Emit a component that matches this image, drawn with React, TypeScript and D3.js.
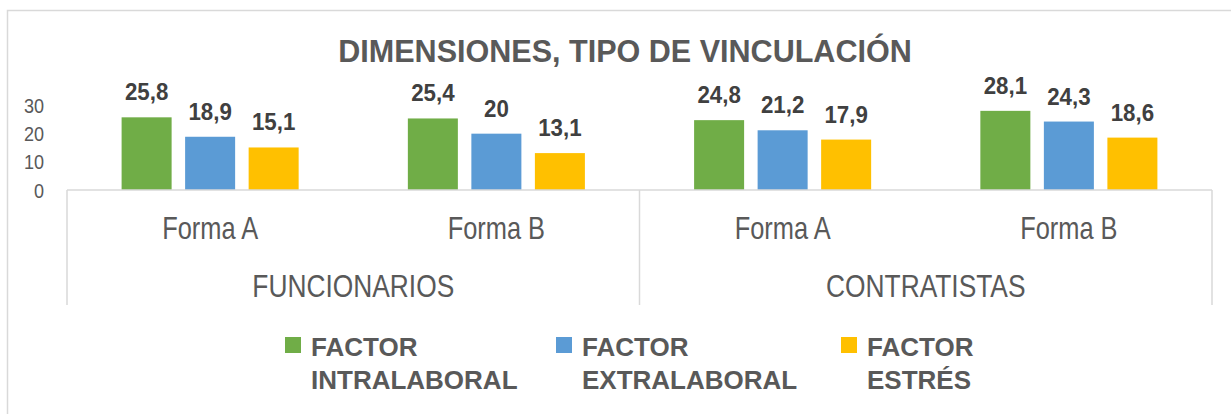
import React, { useEffect, useRef } from "react";
import * as d3 from "d3";

const categories = ["Forma A", "Forma B", "Forma A", "Forma B"];
const groups = ["FUNCIONARIOS", "CONTRATISTAS"];
const seriesNames = ["FACTOR INTRALABORAL", "FACTOR EXTRALABORAL", "FACTOR ESTRÉS"];
const legendLines = [["FACTOR", "INTRALABORAL"], ["FACTOR", "EXTRALABORAL"], ["FACTOR", "ESTRÉS"]];
const intralaboral = [25.8, 25.4, 24.8, 28.1];
const extralaboral = [18.9, 20, 21.2, 24.3];
const estres = [15.1, 13.1, 17.9, 18.6];
const yTicks = [0, 10, 20, 30];
const title = "DIMENSIONES, TIPO DE VINCULACIÓN";

const colors = ["#70AD47", "#5B9BD5", "#FFC000"];
const W = 1231;
const H = 414;
const FONT = "'Liberation Sans', Arial, sans-serif";

export default function App() {
  const ref = useRef<SVGSVGElement | null>(null);

  useEffect(() => {
    const svg = d3.select(ref.current);
    svg.selectAll("*").remove();

    const series = [intralaboral, extralaboral, estres];

    const x0 = d3.scaleBand<number>().domain(categories.map((_, i) => i)).range([67, 1212]).padding(0);
    const bw = x0.bandwidth();
    const x1 = d3
      .scaleBand<number>()
      .domain(series.map((_, i) => i))
      .range([54.6, bw - 54.6])
      .paddingInner(0.2126)
      .paddingOuter(0);
    const y = d3.scaleLinear().domain([0, 30]).range([190, 105.5]);

    const text = (
      g: any,
      x: number,
      yy: number,
      str: string,
      o: { size: number; sx: number; weight?: string; fill: string; anchor?: string }
    ) =>
      g
        .append("text")
        .attr("transform", `translate(${x},${yy}) scale(${o.sx},1)`)
        .attr("font-family", FONT)
        .attr("font-size", o.size)
        .attr("font-weight", o.weight || "normal")
        .attr("fill", o.fill)
        .attr("text-anchor", o.anchor || "middle")
        .text(str);

    // background & outer frame
    svg.append("rect").attr("x", 0).attr("y", 0).attr("width", W).attr("height", H).attr("fill", "#fff");
    svg
      .append("rect")
      .attr("x", 7.5)
      .attr("y", 10.5)
      .attr("width", 1300)
      .attr("height", 500)
      .attr("fill", "none")
      .attr("stroke", "#d9d9d9")
      .attr("stroke-width", 1.5);

    // title
    text(svg, 625, 62, title, { size: 32, sx: 0.955, weight: "bold", fill: "#595959" });

    // y tick labels
    yTicks.forEach((t) => {
      text(svg, 44, y(t) + 7.5, String(t), { size: 21, sx: 0.86, fill: "#595959", anchor: "end" });
    });

    // bars
    const fmt = (v: number) => String(v).replace(".", ",");
    categories.forEach((_, ci) => {
      series.forEach((s, si) => {
        const bx = (x0(ci) as number) + (x1(si) as number);
        svg
          .append("rect")
          .attr("x", bx)
          .attr("y", y(s[ci]))
          .attr("width", x1.bandwidth())
          .attr("height", y(0) - y(s[ci]))
          .attr("fill", colors[si]);
        text(svg, bx + x1.bandwidth() / 2, y(s[ci]) - 17, fmt(s[ci]), {
          size: 24,
          sx: 0.93,
          weight: "bold",
          fill: "#404040",
        });
      });
    });

    // axis lines
    const axisColor = "#d9d9d9";
    svg
      .append("line")
      .attr("x1", x0.range()[0])
      .attr("x2", x0.range()[1])
      .attr("y1", y(0))
      .attr("y2", y(0))
      .attr("stroke", axisColor)
      .attr("stroke-width", 1.5);
    const dividers = [x0(0) as number, x0(2) as number, x0.range()[1]];
    dividers.forEach((dx) => {
      svg
        .append("line")
        .attr("x1", dx)
        .attr("x2", dx)
        .attr("y1", y(0))
        .attr("y2", 305)
        .attr("stroke", axisColor)
        .attr("stroke-width", 1.5);
    });

    // category labels
    categories.forEach((c, ci) => {
      text(svg, (x0(ci) as number) + bw / 2, 239, c, { size: 31, sx: 0.82, fill: "#595959" });
    });
    groups.forEach((gname, gi) => {
      const cx = (x0(gi * 2) as number) + bw;
      text(svg, cx, 297, gname, { size: 31, sx: 0.85, fill: "#595959" });
    });

    // legend
    const legendX = [285, 556, 841];
    seriesNames.forEach((_, si) => {
      const lx = legendX[si];
      svg.append("rect").attr("x", lx).attr("y", 337).attr("width", 16).attr("height", 16).attr("fill", colors[si]);
      legendLines[si].forEach((ln, li) => {
        text(svg, lx + 26, 356 + li * 33, ln, { size: 26, sx: 1.0, weight: "bold", fill: "#595959", anchor: "start" });
      });
    });
  }, []);

  return (
    <svg
      ref={ref}
      width={W}
      height={H}
      style={{ position: "absolute", left: 0, top: 0, display: "block" }}
    />
  );
}
